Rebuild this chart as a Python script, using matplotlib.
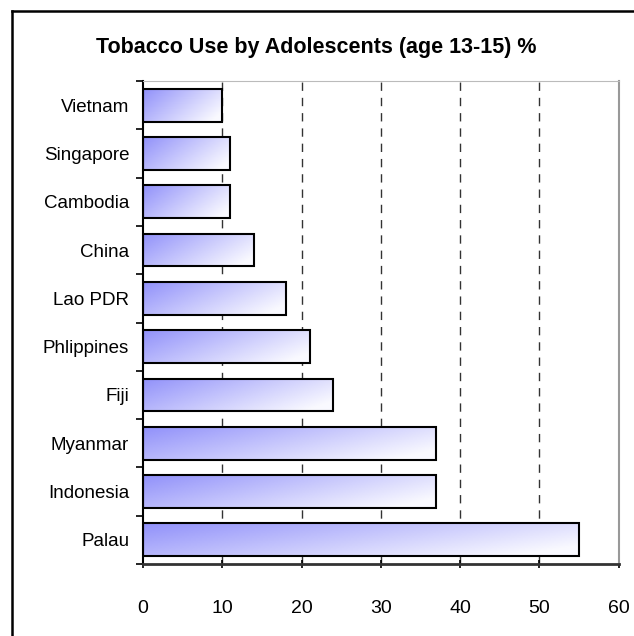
import matplotlib
matplotlib.use("Agg")
import matplotlib.pyplot as plt
import numpy as np
from matplotlib.patches import Rectangle
from matplotlib.lines import Line2D

countries = ["Palau", "Indonesia", "Myanmar", "Fiji", "Phlippines",
             "Lao PDR", "China", "Cambodia", "Singapore", "Vietnam"]
values = [55, 37, 37, 24, 21, 18, 14, 11, 11, 10]
xticks = [0, 10, 20, 30, 40, 50, 60]

plt.rcParams['font.family'] = ['Liberation Sans', 'DejaVu Sans']

fig = plt.figure(figsize=(6.34, 6.36), dpi=100)
ax = fig.add_axes([0.2256, 0.1132, 0.7504, 0.7594])

# outer frame (only left and top visible in the original)
fig.add_artist(Line2D([0.019, 0.019], [-0.1, 0.983], transform=fig.transFigure, color='black', lw=1.8))
fig.add_artist(Line2D([0.019, 1.1], [0.983, 0.983], transform=fig.transFigure, color='black', lw=1.8))

# gradient: blue at top-left, white at bottom-right
gx, gy = np.meshgrid(np.linspace(0, 1, 200), np.linspace(0, 1, 20))
t = np.clip(0.75 * gx + 0.35 * gy, 0, 1)
c0 = np.array([0.57, 0.57, 0.98])
c1 = np.array([0.98, 0.98, 1.0])
grad = c0[None, None, :] * (1 - t[..., None]) + c1[None, None, :] * t[..., None]

h = 0.68
for i, v in enumerate(values):
    rect = Rectangle((0, i - h / 2), v, h, facecolor='none', edgecolor='black', lw=1.5, zorder=3)
    ax.add_patch(rect)
    im = ax.imshow(grad, extent=(0, v, i - h / 2, i + h / 2), aspect='auto', origin='upper', zorder=2)
    im.set_clip_path(rect)

ax.set_xlim(0, 60)
ax.set_ylim(-0.5, len(countries) - 0.5)
ax.set_xticks(xticks)
ax.set_xticklabels([str(x) for x in xticks], fontsize=14)
ax.set_yticks(range(len(countries)))
ax.set_yticklabels(countries, fontsize=13.5)
ax.set_yticks(np.arange(-0.5, len(countries), 1), minor=True)
ax.tick_params(axis='y', which='major', length=0, pad=10)
ax.tick_params(axis='y', which='minor', length=5, width=1.2, direction='out')
ax.tick_params(axis='x', length=6, width=1.2, direction='inout', pad=23)

for x in xticks[1:-1]:
    ax.axvline(x, color='#333333', lw=1, ls=(0, (6, 5)), zorder=1)

ax.spines['left'].set_color('black')
ax.spines['left'].set_linewidth(1.5)
ax.spines['bottom'].set_color('#333333')
ax.spines['bottom'].set_linewidth(2)
ax.spines['top'].set_color('#bbbbbb')
ax.spines['right'].set_color('#999999')
ax.spines['right'].set_linewidth(1.5)

fig.text(0.499, 0.926, "Tobacco Use by Adolescents (age 13-15) %", ha='center', va='center',
         fontsize=15.5, fontweight='bold', family=['Liberation Sans Narrow', 'Liberation Sans'])

fig.savefig("out.png", dpi=100)
